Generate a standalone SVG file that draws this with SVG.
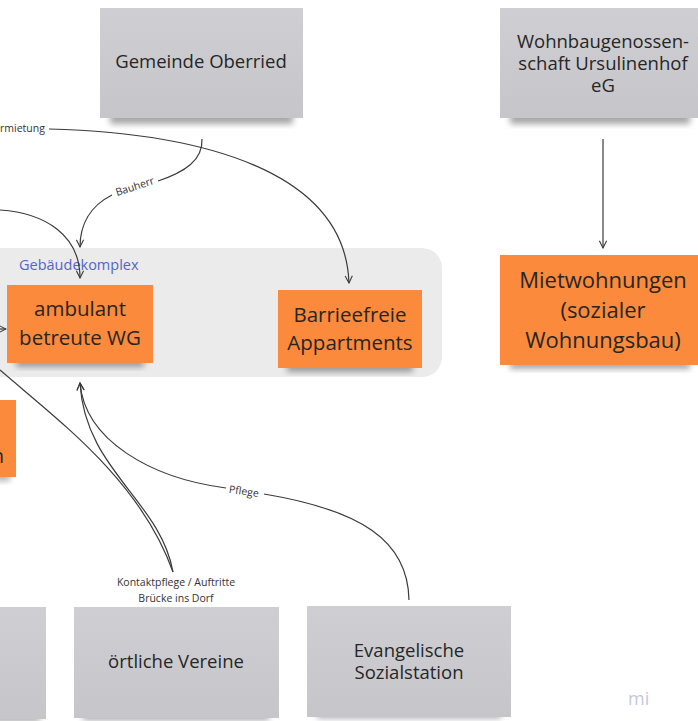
<svg xmlns="http://www.w3.org/2000/svg" width="698" height="721" viewBox="0 0 698 721">
<style>
  .gray { fill: url(#gGray); }
  .orange { fill: #fb8a3c; }
  .txt { font-family: "Open Sans", "Noto Sans", "Liberation Sans", sans-serif; fill: #262626; text-anchor: middle; }
  .lbl { font-family: "Open Sans", "Noto Sans", "Liberation Sans", sans-serif; fill: #333; font-size: 10.5px; text-anchor: middle; }
  .conn { fill: none; stroke: #3a3a3a; stroke-width: 1.2; }
</style>
<defs>
  <linearGradient id="gGray" x1="0" y1="0" x2="0" y2="1">
    <stop offset="0" stop-color="#cfcfd3"/>
    <stop offset="1" stop-color="#c6c6ca"/>
  </linearGradient>
  <filter id="sh" x="-20%" y="-20%" width="140%" height="160%">
    <feGaussianBlur stdDeviation="3"/>
  </filter>
  <marker id="arr" viewBox="0 0 10 10" refX="9" refY="5" markerWidth="9" markerHeight="9" markerUnits="userSpaceOnUse" orient="auto">
    <path d="M1,1 L9,5 L1,9" fill="none" stroke="#3a3a3a" stroke-width="1.2"/>
  </marker>
</defs>

<rect x="0" y="0" width="698" height="721" fill="#ffffff"/>

<!-- container -->
<g id="gebaeudekomplex">
  <rect x="-30" y="248" width="472" height="129" rx="20" fill="#ebebeb"/>
  <text x="19" y="270" font-family="'Open Sans','Noto Sans','Liberation Sans',sans-serif" font-size="14.5" fill="#5563c9">Gebäudekomplex</text>
</g>

<!-- nodes -->
<g id="gemeinde">
  <rect x="110" y="112" width="183" height="12" fill="#000" opacity="0.35" filter="url(#sh)"/>
  <rect class="gray" x="100" y="8" width="203" height="110"/>
  <text class="txt" x="201" y="68" font-size="18.5">Gemeinde Oberried</text>
</g>

<g id="wohnbau">
  <rect x="510" y="112" width="180" height="12" fill="#000" opacity="0.35" filter="url(#sh)"/>
  <rect class="gray" x="500" y="8" width="198" height="110"/>
  <text class="txt" x="603" y="48" font-size="18.5">Wohnbaugenossen-</text>
  <text class="txt" x="603" y="70" font-size="18.5">schaft Ursulinenhof</text>
  <text class="txt" x="603" y="92" font-size="18.5">eG</text>
</g>

<g id="ambulant">
  <rect x="16" y="357" width="128" height="10" fill="#000" opacity="0.35" filter="url(#sh)"/>
  <rect class="orange" x="7" y="285" width="146" height="78"/>
  <text class="txt" x="80" y="316" font-size="20.5">ambulant</text>
  <text class="txt" x="80" y="345" font-size="20.5">betreute WG</text>
</g>

<g id="barrierefreie">
  <rect x="287" y="362" width="126" height="10" fill="#000" opacity="0.35" filter="url(#sh)"/>
  <rect class="orange" x="278" y="290" width="144" height="78"/>
  <text class="txt" x="350" y="322" font-size="20.5">Barrieefreie</text>
  <text class="txt" x="350" y="350" font-size="20.5">Appartments</text>
</g>

<g id="mietwohnungen">
  <rect x="510" y="359" width="180" height="10" fill="#000" opacity="0.35" filter="url(#sh)"/>
  <rect class="orange" x="500" y="255" width="198" height="110"/>
  <text class="txt" x="603" y="288" font-size="22">Mietwohnungen</text>
  <text class="txt" x="603" y="318" font-size="22">(sozialer</text>
  <text class="txt" x="603" y="348" font-size="22">Wohnungsbau)</text>
</g>

<g id="links-orange">
  <rect x="-20" y="471" width="30" height="10" fill="#000" opacity="0.3" filter="url(#sh)"/>
  <rect class="orange" x="-40" y="400" width="56" height="77"/>
  <text class="txt" x="4" y="463" font-size="20.5" style="text-anchor:end">n</text>
</g>

<g id="links-grau">
  <rect x="-20" y="712" width="60" height="10" fill="#000" opacity="0.3" filter="url(#sh)"/>
  <rect class="gray" x="-40" y="607" width="86" height="112"/>
</g>

<g id="vereine">
  <rect x="83" y="710" width="186" height="10" fill="#000" opacity="0.35" filter="url(#sh)"/>
  <rect class="gray" x="74" y="607" width="205" height="111"/>
  <text class="txt" x="176" y="668" font-size="18.5">örtliche Vereine</text>
</g>

<g id="sozialstation">
  <rect x="317" y="708" width="184" height="10" fill="#000" opacity="0.35" filter="url(#sh)"/>
  <rect class="gray" x="307" y="606" width="204" height="111"/>
  <text class="txt" x="409" y="657" font-size="18.5">Evangelische</text>
  <text class="txt" x="409" y="679" font-size="18.5">Sozialstation</text>
</g>

<!-- connectors -->
<g id="connectors">
  <!-- Vermietung -->
  <path class="conn" d="M49 129 C200 133 345 170 349 283" marker-end="url(#arr)"/>
  <text class="lbl" x="0" y="132" style="text-anchor:start">rmietung</text>

  <!-- Bauherr -->
  <path class="conn" d="M202 139 C203 160 185 172 158 181"/>
  <path class="conn" d="M112 195 C90 206 80 225 80 247" marker-end="url(#arr)"/>
  <text class="lbl" x="135" y="190" transform="rotate(-18 135 187)">Bauherr</text>

  <!-- from left into ambulant top -->
  <path class="conn" d="M0 210 C45 213 80 235 80 278" marker-end="url(#arr)"/>

  <!-- from left into ambulant side -->
  <path class="conn" d="M0 329 L6 329" marker-end="url(#arr)"/>

  <!-- Wohnbau to Mietwohnungen -->
  <path class="conn" d="M603 139 L603 248" marker-end="url(#arr)"/>

  <!-- Kontaktpflege lines -->
  <path class="conn" d="M0 370 C60 422 140 480 173 572"/>
  <path class="conn" d="M173 572 C160 500 85 470 80 383" marker-end="url(#arr)"/>
  <text class="lbl" x="176" y="586" font-size="10">Kontaktpflege / Auftritte</text>
  <text class="lbl" x="176" y="602" font-size="10">Brücke ins Dorf</text>

  <!-- Pflege -->
  <path class="conn" d="M226 488 C150 478 85 440 80 383" marker-end="url(#arr)"/>
  <path class="conn" d="M264 494 C360 510 408 540 409 600"/>
  <text class="lbl" x="244" y="495" transform="rotate(8 244 491)">Pflege</text>
</g>

<text x="628" y="705" font-family="'Open Sans','Noto Sans','Liberation Sans',sans-serif" font-size="18" fill="#c6c7dd">mi</text>
</svg>
